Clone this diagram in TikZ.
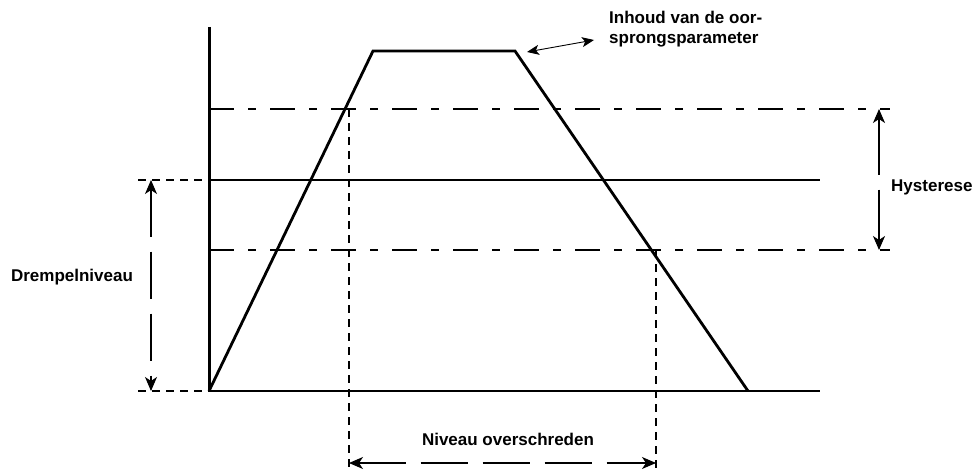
\documentclass[tikz,border=0pt]{standalone}
\usepackage{fontspec}
\setmainfont{Liberation Sans}
\usetikzlibrary{arrows.meta}

\begin{document}
\begin{tikzpicture}[x=1pt, y=-1pt,
    curve/.style={line width=2.8pt, line join=miter},
    axisline/.style={line width=3pt},
    levelline/.style={line width=1.1pt, dash pattern=on 25pt off 14pt on 8pt off 14pt},
    guide/.style={line width=1.1pt, dash pattern=on 8pt off 6pt},
    span/.style={line width=1.1pt, dash pattern=on 47pt off 15pt,
        {Stealth[length=14pt,width=12pt,inset=4pt]}-{Stealth[length=14pt,width=12pt,inset=4pt]}},
    labelstyle/.style={font=\bfseries\fontsize{17}{20}\selectfont, align=left}
]
\useasboundingbox (0,0) rectangle (976,473);

% axes and signal
\coordinate (origin) at (209,391);
\coordinate (top) at (209,27);
\coordinate (base) at (820,391);
\coordinate (rise) at (373,51);
\coordinate (fall) at (515,51);
\coordinate (stop) at (748,391);

\draw[axisline] (top) -- (origin);
\draw[curve] (origin) -- (base);
\draw[curve] (origin) -- (rise) -- (fall) -- (stop);

% threshold level
\coordinate (thrL) at (209,180);
\coordinate (thrR) at (820,180);
\draw[line width=2.4pt] (thrL) -- (thrR);

% hysteresis band
\coordinate (hiL) at (209,109);
\coordinate (hiR) at (890,109);
\coordinate (loL) at (209,250);
\coordinate (loR) at (890,250);
\draw[levelline] (hiL) -- (hiR);
\draw[levelline] (loL) -- (loR);

% left extensions
\coordinate (thrX) at (138,180);
\coordinate (baseX) at (138,391);
\draw[guide] (thrX) -- (thrL);
\draw[guide] (baseX) -- (origin);

% crossing markers
\coordinate (upT) at (349,109);
\coordinate (upB) at (349,470);
\coordinate (dnT) at (656,250);
\coordinate (dnB) at (656,470);
\draw[guide] (upT) -- (upB);
\draw[guide] (dnT) -- (dnB);

% dimension arrows
\coordinate (drT) at (151,180);
\coordinate (drB) at (151,391);
\draw[span] (drT) -- (drB);
\node[labelstyle] (drempel) at (72,277) {Drempelniveau};

\coordinate (hyT) at (879,109);
\coordinate (hyB) at (879,250);
\draw[span, dash pattern=on 56pt off 15pt] (hyT) -- (hyB);
\node[labelstyle, anchor=west, inner sep=0pt] (hyst) at (891,187) {Hysterese};

\coordinate (nvL) at (349,463);
\coordinate (nvR) at (656,463);
\draw[span] (nvL) -- (nvR);
\node[labelstyle] (niveau) at (508,439) {Niveau overschreden};

% source parameter
\node[labelstyle, anchor=north west, inner sep=0pt] (inhoud) at (609,11) {Inhoud van de oor-\\sprongsparameter};
\coordinate (ihA) at (527,52);
\coordinate (ihB) at (594,40);
\draw[line width=0.9pt, {Stealth[length=12pt,width=10pt,inset=3pt]}-{Stealth[length=12pt,width=10pt,inset=3pt]}] (ihA) -- (ihB);

\end{tikzpicture}
\end{document}
